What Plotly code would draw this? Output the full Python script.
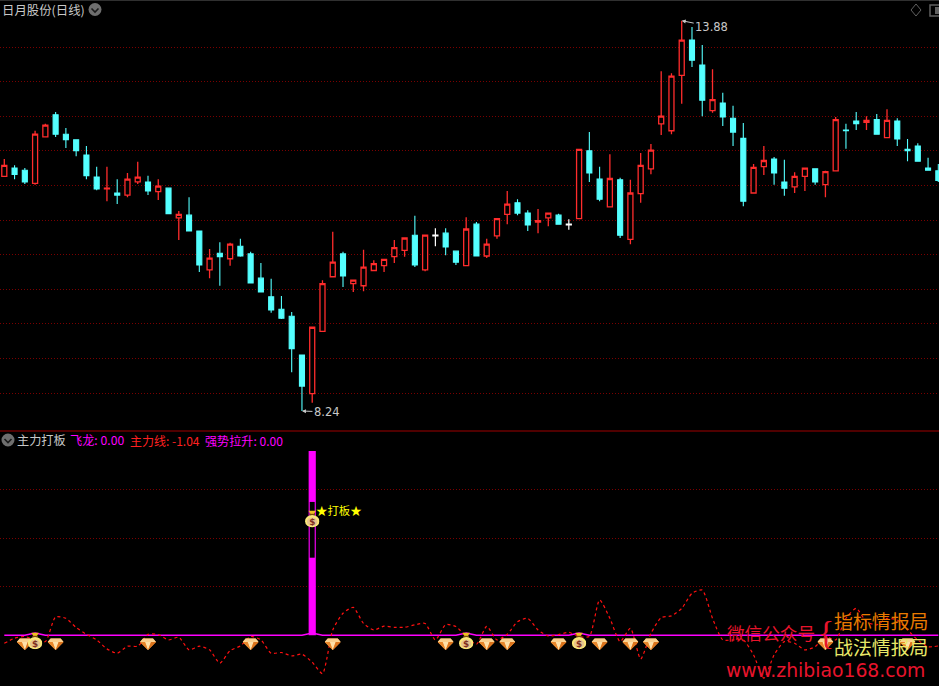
import base64
import plotly.graph_objects as go

W, H = 939, 686

opens = [11.63,11.75,11.72,11.53,12.20,12.52,12.24,12.16,11.94,11.62,11.45,11.39,11.36,11.55,11.55,11.41,11.46,11.03,11.07,10.84,
         10.28,10.52,10.44,10.62,10.51,10.16,9.89,9.71,9.61,9.05,8.49,9.39,10.18,10.51,10.08,10.05,10.27,10.34,10.47,10.56,
         10.78,10.28,10.77,10.81,10.55,10.34,10.94,10.48,10.77,11.08,11.25,11.10,10.97,11.03,11.07,10.93,11.02,12.00,11.59,11.19,
         11.58,10.72,11.38,11.74,12.39,12.29,13.09,13.60,13.24,12.58,12.69,12.47,12.18,11.39,11.77,11.88,11.55,11.48,11.63,11.74,
         11.51,11.71,12.30,12.43,12.41,12.45,12.19,12.43,12.02,12.07,11.75,11.71]
highs = [11.88,11.79,11.75,12.29,12.39,12.56,12.33,12.16,12.07,11.77,11.77,11.59,11.68,11.84,11.64,11.59,11.46,11.13,11.33,10.84,
         10.58,10.68,10.67,10.73,10.54,10.38,10.15,9.90,9.67,9.05,9.45,10.13,10.83,10.54,10.13,10.57,10.42,10.43,10.71,10.74,
         11.06,10.78,10.88,10.88,10.55,11.04,10.97,10.73,11.02,11.42,11.30,11.14,11.16,11.10,11.09,11.01,12.02,12.27,11.77,11.95,
         11.61,11.58,11.97,12.10,13.15,13.12,13.88,13.79,13.53,13.18,12.84,12.65,12.40,11.81,12.07,11.91,11.87,11.69,11.75,11.74,
         11.71,12.49,12.39,12.56,12.50,12.53,12.60,12.47,12.17,12.11,11.90,11.81]
lows = [11.63,11.59,11.52,11.51,12.20,12.20,12.04,11.92,11.59,11.43,11.27,11.23,11.33,11.52,11.36,11.29,11.09,10.71,10.84,10.25,
        10.16,10.05,10.34,10.47,10.09,9.96,9.66,9.57,8.80,8.24,8.36,9.39,10.18,10.03,9.96,9.97,10.27,10.25,10.38,10.47,
        10.32,10.26,10.62,10.49,10.35,10.34,10.48,10.45,10.73,10.94,11.07,10.84,10.81,10.91,10.93,10.86,11.02,11.55,11.27,11.19,
        10.74,10.65,11.25,11.66,12.23,12.24,12.68,13.21,12.50,12.55,12.36,12.07,11.20,11.39,11.65,11.51,11.35,11.39,11.42,11.51,
        11.33,11.71,12.03,12.30,12.30,12.24,12.19,12.07,11.85,11.84,11.71,11.55]
closes = [11.79,11.66,11.55,12.24,12.37,12.24,12.16,12.00,11.64,11.45,11.46,11.36,11.59,11.62,11.42,11.49,11.09,11.08,10.84,10.35,
          10.45,10.47,10.65,10.48,10.09,9.96,9.70,9.58,9.14,8.60,9.45,10.08,10.39,10.19,10.13,10.32,10.37,10.43,10.60,10.74,
          10.35,10.78,10.78,10.61,10.39,10.87,10.48,10.65,11.02,11.23,11.10,10.93,10.99,11.10,10.94,10.94,12.02,11.68,11.30,11.60,
          10.78,11.39,11.79,12.01,12.50,13.08,13.60,13.31,12.73,12.74,12.49,12.27,11.27,11.76,11.86,11.68,11.46,11.63,11.75,11.55,
          11.70,12.45,12.29,12.39,12.44,12.24,12.44,12.17,12.00,11.85,11.72,11.57]
flat_days = [42, 55]
price_grid = [8.5, 9.0, 9.5, 10.0, 10.5, 11.0, 11.5, 12.0, 12.5, 13.0, 13.5]

main_line = [-3.3,-1.2,-0.5,-1.9,-2.6,7.6,7.0,3.2,0.4,-1.9,-5.6,-7.4,-4.5,-4.5,0.4,0.3,-1.9,-0.8,-6.0,-4.5,
             -6.0,-11.5,-6.3,-4.4,-0.5,-1.9,-7.4,-7.1,-8.5,-7.8,-11.1,-15.8,2.2,9.1,11.5,4.9,2.2,3.8,3.3,3.3,
             4.3,4.9,-1.9,4.4,3.6,-0.5,-3.7,3.7,-1.9,0.4,5.6,7.0,2.2,-0.3,0.3,1.2,-0.5,-0.5,14.6,7.0,
             -2.6,2.9,-9.8,0.8,7.3,8.0,11.1,17.3,18.7,7.0,-1.9,-1.9,-1.9,-8.1,-17.7,-8.1,-2.6,-3.3,-6.0,-4.7,
             -0.5,-1.9,7.0,11.1,5.6,4.3,7.0,6.3,2.2,-1.9,-4.7,-4.4]
feilong_days = [3, 30, 45, 56]
feilong_height = 0.9
signal_day = 30
bar_lower = 32
bar_hollow_top = 55
bar_top = 76
diamond_days = [2, 5, 14, 24, 32, 43, 47, 49, 54, 58, 61, 63, 80, 88]
diamond_value = -3.6
bag_days = [3, 45, 56, 30]
bag_values = [-2.3, -2.3, -2.3, 48]
lower_grid = [20, 40, 60]

N = len(opens)
days = list(range(N))
normal = [i for i in days if i not in flat_days]
feilong = [feilong_height if i in feilong_days else 0 for i in days]

GEM = """<svg xmlns='http://www.w3.org/2000/svg' viewBox='0 0 32 24'>
<polygon points='6,1 26,1 32,8 16,24 0,8' fill='#f2a04a'/>
<polygon points='6,1 26,1 32,8 0,8' fill='#fbd08e'/>
<polygon points='10,8 22,8 16,24' fill='#ffe0a8'/>
<polygon points='0,8 10,8 16,24' fill='#e8862a'/>
<polygon points='22,8 32,8 16,24' fill='#dc741c'/>
</svg>"""
BAG = """<svg xmlns='http://www.w3.org/2000/svg' viewBox='0 0 26 30'>
<polygon points='6,0 20,0 16,7 10,7' fill='#f0c020'/>
<rect x='8' y='6' width='10' height='3' fill='#7a4a10'/>
<ellipse cx='13' cy='19' rx='13' ry='11' fill='#fbe878'/>
<ellipse cx='13' cy='20' rx='9.5' ry='7.5' fill='#e8c48c'/>
<text x='13' y='26' font-size='16' font-weight='bold' text-anchor='middle' fill='#803020' font-family='DejaVu Sans'>$</text>
</svg>"""
def uri(svg):
    return "data:image/svg+xml;base64," + base64.b64encode(svg.encode()).decode()

fig = go.Figure()
RED, CYAN = "#ff2c2c", "#54ffff"
fig.add_trace(go.Candlestick(
    x=normal,
    open=[opens[i] for i in normal], high=[highs[i] for i in normal],
    low=[lows[i] for i in normal], close=[closes[i] for i in normal],
    increasing=dict(line=dict(color=RED, width=1.3), fillcolor="#000000"),
    decreasing=dict(line=dict(color=CYAN, width=1.1), fillcolor=CYAN),
    whiskerwidth=0, hoverinfo="skip", showlegend=False))
fig.add_trace(go.Candlestick(
    x=flat_days,
    open=[opens[i] for i in flat_days], high=[highs[i] for i in flat_days],
    low=[lows[i] for i in flat_days], close=[closes[i] for i in flat_days],
    increasing=dict(line=dict(color="#ffffff", width=1.2), fillcolor="#ffffff"),
    decreasing=dict(line=dict(color="#ffffff", width=1.2), fillcolor="#ffffff"),
    whiskerwidth=0, hoverinfo="skip", showlegend=False))

MAG = "#ff00ff"
fig.add_trace(go.Bar(x=[signal_day], y=[bar_top], width=0.7, marker=dict(color=MAG, line=dict(width=0)),
                     yaxis="y2", showlegend=False, hoverinfo="skip"))
fig.add_trace(go.Bar(x=[signal_day], y=[bar_hollow_top - bar_lower], base=[bar_lower], width=0.48,
                     marker=dict(color="#000000", line=dict(width=0)),
                     yaxis="y2", showlegend=False, hoverinfo="skip"))
fig.add_trace(go.Scatter(x=days, y=feilong, mode="lines", line=dict(color=MAG, width=1.5),
                         yaxis="y2", showlegend=False, hoverinfo="skip"))
fig.add_trace(go.Scatter(x=days, y=main_line, mode="lines",
                         line=dict(color="#ff1010", width=1.2, dash="3px,3px", shape="spline", smoothing=0.6),
                         yaxis="y2", showlegend=False, hoverinfo="skip"))

images = []
for d in diamond_days:
    images.append(dict(source=uri(GEM), xref="x", yref="y2", x=d, y=diamond_value, sizex=1.56, sizey=5.0,
                       xanchor="center", yanchor="middle", sizing="stretch", layer="above"))
for d, v in zip(bag_days, bag_values):
    images.append(dict(source=uri(BAG), xref="x", yref="y2", x=d, y=v, sizex=1.4, sizey=7.0,
                       xanchor="center", yanchor="middle", sizing="stretch", layer="above"))

def px(x): return x / W
def py(y): return 1 - y / H

CJK = "Noto Sans CJK SC"
def label(x, y, text, color, size, family=CJK, anchor="left"):
    return dict(xref="paper", yref="paper", x=px(x), y=py(y), text=text, showarrow=False,
                xanchor=anchor, yanchor="middle", font=dict(color=color, size=size, family=family))

GREY = "#c8c8c8"
annotations = [
    label(0, 9.5, "日月股份(日线)", GREY, 12.4),
    label(15, 440, "主力打板", GREY, 12.2),
    label(68, 440, "飞龙: 0.00", MAG, 12.2),
    label(128, 440, "主力线: -1.04", "#ff2020", 12),
    label(203, 440, "强势拉升: 0.00", MAG, 12.1),
    label(314, 509.5, "★打板★", "#ffff00", 11.4),
    label(725, 632, "微信公众号", "#e8142c", 17.6),
    label(816, 632, "{", "#e8142c", 34, "Liberation Serif"),
    label(832, 620, "指标情报局", "#e87a00", 18.9),
    label(832, 646, "战法情报局", "#e8e868", 18.9),
    label(724, 670, "www.zhibiao168.com", "#e8142c", 18.8, "DejaVu Sans"),
    dict(xref="x", yref="y", x=highs.index(max(highs)), y=max(highs),
         text=f"{max(highs):.2f}", showarrow=True, ax=30, ay=6, arrowcolor=GREY, arrowwidth=1, arrowhead=2,
         arrowsize=0.8, font=dict(color=GREY, size=11.5, family="DejaVu Sans")),
    dict(xref="x", yref="y", x=lows.index(min(lows)), y=min(lows),
         text=f"{min(lows):.2f}", showarrow=True, ax=25, ay=1, arrowcolor=GREY, arrowwidth=1, arrowhead=2,
         arrowsize=0.8, font=dict(color=GREY, size=11.5, family="DejaVu Sans")),
]

def chevron_icon(cx, cy):
    return [
        dict(type="circle", xref="paper", yref="paper", x0=px(cx-6.5), x1=px(cx+6.5), y0=py(cy+6.5), y1=py(cy-6.5),
             fillcolor="#6e6e6e", line=dict(width=0)),
        dict(type="path", xref="paper", yref="paper",
             path=f"M {px(cx-3.5)} {py(cy-1)} L {px(cx)} {py(cy+2.5)} L {px(cx+3.5)} {py(cy-1)}",
             line=dict(color="#1a1a1a", width=1.6)),
    ]

shapes = chevron_icon(95, 9.5) + chevron_icon(8, 440) + [
    dict(type="line", xref="paper", yref="paper", x0=0, x1=1, y0=py(431), y1=py(431), line=dict(color="#a00000", width=1)),
    dict(type="line", xref="paper", yref="paper", x0=0, x1=1, y0=py(0.5), y1=py(0.5), line=dict(color="#303030", width=1)),
    dict(type="path", xref="paper", yref="paper",
         path=f"M {px(916)} {py(4)} L {px(921)} {py(10)} L {px(916)} {py(16)} L {px(911)} {py(10)} Z",
         line=dict(color="#606060", width=1)),
    dict(type="rect", xref="paper", yref="paper", x0=px(930), x1=px(941), y0=py(16), y1=py(5),
         line=dict(color="#606060", width=1.5), fillcolor="#000000"),
    dict(type="rect", xref="paper", yref="paper", x0=px(935), x1=px(939), y0=py(14), y1=py(7),
         line=dict(width=0), fillcolor="#606060"),
]

scale = 10.264
x0 = 4.3
fig.update_layout(
    width=W, height=H, margin=dict(l=0, r=0, t=0, b=0), autosize=False,
    paper_bgcolor="#000000", plot_bgcolor="#000000", showlegend=False,
    barmode="overlay", boxgap=0.3,
    xaxis=dict(domain=[0, 1], range=[-x0 / scale, (W - x0) / scale], visible=False,
               rangeslider=dict(visible=False), fixedrange=True),
    yaxis=dict(domain=[py(431), 1], range=[8.5 - 38 / 69.2, 8.5 + 393 / 69.2], tickmode="array",
               tickvals=price_grid, showticklabels=False, ticks="", zeroline=False, showline=False,
               showgrid=True, gridcolor="#7a0000", griddash="1px,2px", gridwidth=1, fixedrange=True),
    yaxis2=dict(domain=[0, py(432)], range=[-(686 - 635.3) / 2.425, (635.3 - 432) / 2.425], tickmode="array",
                tickvals=lower_grid, showticklabels=False, ticks="", zeroline=False, showline=False,
                showgrid=True, gridcolor="#7a0000", griddash="1px,2px", gridwidth=1, anchor="x", fixedrange=True),
    annotations=annotations, shapes=shapes, images=images,
)

fig.write_html("out.html", config=dict(displayModeBar=False),
               post_script="document.body.style.margin='0';document.body.style.background='#000';document.body.style.overflow='hidden';")
